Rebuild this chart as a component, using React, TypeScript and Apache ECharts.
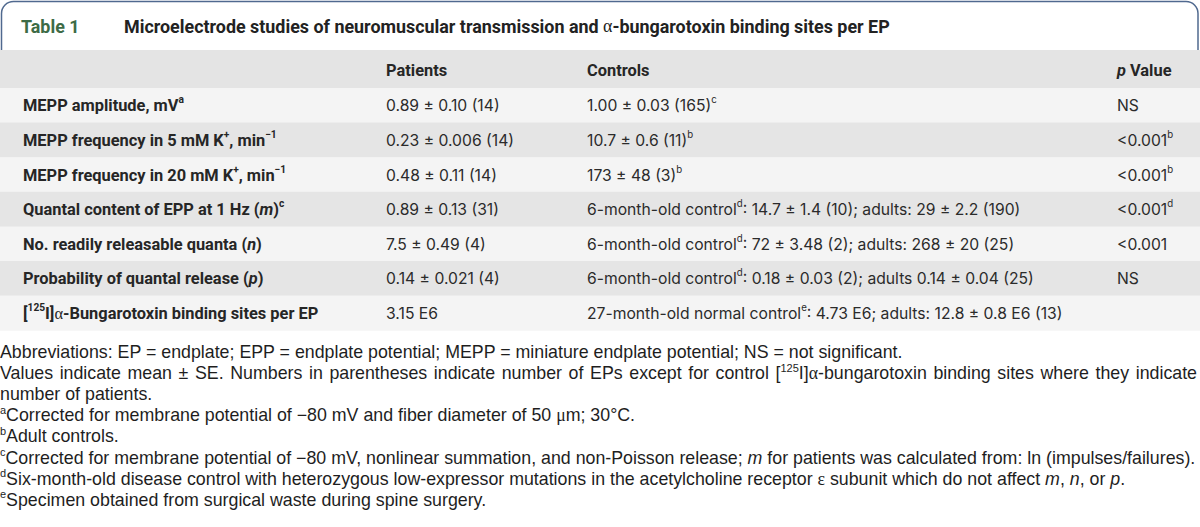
import React, { useEffect, useRef } from "react";
import * as echarts from "echarts";

const tableNumber = "Table 1";
const tableTitle =
  "Microelectrode studies of neuromuscular transmission and {gr|α}-bungarotoxin binding sites per EP";
const columnHeaders = ["Patients", "Controls", "{it|p} Value"];
const rowLabels = [
  "MEPP amplitude, mV{sup|a}",
  "MEPP frequency in 5 mM K{sup|+}, min{sup|−1}",
  "MEPP frequency in 20 mM K{sup|+}, min{sup|−1}",
  "Quantal content of EPP at 1 Hz ({it|m}){sup|c}",
  "No. readily releasable quanta ({it|n})",
  "Probability of quantal release ({it|p})",
  "[{sup|125}I]{gr|α}-Bungarotoxin binding sites per EP",
];
const patientValues = [
  "0.89 ± 0.10 (14)",
  "0.23 ± 0.006 (14)",
  "0.48 ± 0.11 (14)",
  "0.89 ± 0.13 (31)",
  "7.5 ± 0.49 (4)",
  "0.14 ± 0.021 (4)",
  "3.15 E6",
];
const controlValues = [
  "1.00 ± 0.03 (165){sup|c}",
  "10.7 ± 0.6 (11){sup|b}",
  "173 ± 48 (3){sup|b}",
  "6-month-old control{sup|d}: 14.7 ± 1.4 (10); adults: 29 ± 2.2 (190)",
  "6-month-old control{sup|d}: 72 ± 3.48 (2); adults: 268 ± 20 (25)",
  "6-month-old control{sup|d}: 0.18 ± 0.03 (2); adults 0.14 ± 0.04 (25)",
  "27-month-old normal control{sup|e}: 4.73 E6; adults: 12.8 ± 0.8 E6 (13)",
];
const pValues = ["NS", "<0.001{sup|b}", "<0.001{sup|b}", "<0.001{sup|d}", "<0.001", "NS", ""];
const footnoteLines = [
  "Abbreviations: EP = endplate; EPP = endplate potential; MEPP = miniature endplate potential; NS = not significant.",
  "Values indicate mean ± SE. Numbers in parentheses indicate number of EPs except for control [{sup|125}I]{gr|α}-bungarotoxin binding sites where they indicate",
  "number of patients.",
  "{sup|a}Corrected for membrane potential of −80 mV and fiber diameter of 50 {gr|μ}m; 30°C.",
  "{sup|b}Adult controls.",
  "{sup|c}Corrected for membrane potential of −80 mV, nonlinear summation, and non-Poisson release; {it|m} for patients was calculated from: ln (impulses/failures).",
  "{sup|d}Six-month-old disease control with heterozygous low-expressor mutations in the acetylcholine receptor {gr|ε} subunit which do not affect {it|m}, {it|n}, or {it|p}.",
  "{sup|e}Specimen obtained from surgical waste during spine surgery.",
];
const justifiedFootnotes = [1];

const LABEL_FAMILY = "Roboto, 'Noto Sans', sans-serif";
const VALUE_FAMILY = "Inter, Roboto, sans-serif";
const NOTE_FAMILY = "'Liberation Sans', Arial, sans-serif";
const SERIF_FAMILY = "'Liberation Serif', 'DejaVu Serif', serif";

type Base = { size: number; family: string; weight: string; fill: string; lh: number };

function richFor(b: Base) {
  const mk = (o: any) => ({
    fontSize: b.size,
    fontFamily: b.family,
    fontWeight: b.weight,
    fontStyle: "normal",
    fill: b.fill,
    lineHeight: b.lh,
    verticalAlign: "middle",
    textVerticalAlign: "middle",
    ...o,
  });
  return {
    sup: mk({ fontSize: Math.round(b.size * 0.62 * 10) / 10, lineHeight: 11, verticalAlign: "top", textVerticalAlign: "top" }),
    it: mk({ fontStyle: "italic" }),
    gr: mk({ fontFamily: SERIF_FAMILY, fontWeight: "normal" }),
  };
}

function textEl(x: number, y: number, text: string, b: Base) {
  return {
    type: "text",
    x,
    y,
    silent: true,
    style: {
      text,
      fontSize: b.size,
      fontFamily: b.family,
      fontWeight: b.weight,
      fill: b.fill,
      lineHeight: b.lh,
      align: "left",
      textAlign: "left",
      verticalAlign: "middle",
      textVerticalAlign: "middle",
      rich: richFor(b),
    },
  };
}

let ctx: CanvasRenderingContext2D | null = null;
function measureRich(str: string, b: Base) {
  if (!ctx) ctx = document.createElement("canvas").getContext("2d");
  const rich: any = richFor(b);
  const re = /\{(\w+)\|([^}]*)\}|([^{]+)/g;
  let m: RegExpExecArray | null;
  let w = 0;
  while ((m = re.exec(str))) {
    let size = b.size, fam = b.family, weight = b.weight, style = "normal", t = m[3];
    if (m[1]) {
      const r = rich[m[1]];
      size = r.fontSize; fam = r.fontFamily; weight = r.fontWeight; style = r.fontStyle; t = m[2];
    }
    ctx!.font = `${style} ${weight} ${size}px ${fam}`;
    w += ctx!.measureText(t).width;
  }
  return w;
}

// scale a base style so that a sample string spans the target width
function fit(b: Base, sample: string, target: number): Base {
  const w = measureRich(sample, b);
  return { ...b, size: Math.round(((b.size * target) / w) * 10) / 10 };
}

export default function App() {
  const ref = useRef<HTMLDivElement>(null);
  useEffect(() => {
    if (!ref.current) return;
    const chart = echarts.init(ref.current, undefined, { renderer: "svg" });
    const W = 1200;
    const els: any[] = [];

    const titleB = fit({ size: 16, family: LABEL_FAMILY, weight: "bold", fill: "#222", lh: 22 }, tableTitle, 765);
    const numB: Base = { ...titleB, fill: "#3d6b46" };
    const labelB = fit({ size: 16, family: LABEL_FAMILY, weight: "bold", fill: "#262626", lh: 22 }, rowLabels[2], 263);
    const headB: Base = { ...labelB };
    const valB = fit({ size: 16, family: VALUE_FAMILY, weight: "normal", fill: "#2b2b2b", lh: 22 }, controlValues[3], 434);
    const noteB = fit({ size: 17, family: NOTE_FAMILY, weight: "normal", fill: "#1e1e1e", lh: 22 }, footnoteLines[5], 1194);

    // title box
    els.push({
      type: "rect",
      silent: true,
      shape: { x: 1.5, y: 1.5, width: W - 3.5, height: 70, r: [12, 12, 0, 0] },
      style: { fill: "#fff", stroke: "#50698f", lineWidth: 1.5 },
    });
    els.push(textEl(21, 26, tableNumber, numB));
    els.push(textEl(124, 26, tableTitle, titleB));

    // header row
    const headTop = 50, headBottom = 88, rowH = 34.6;
    els.push({ type: "rect", silent: true, shape: { x: 0, y: headTop, width: W, height: headBottom - headTop }, style: { fill: "#e4e4e4" } });
    const colX = [23, 386, 587, 1117];
    const headY = 70;
    columnHeaders.forEach((h, i) => els.push(textEl(colX[i + 1], headY, h, headB)));

    rowLabels.forEach((lab, i) => {
      const top = headBottom + i * rowH;
      els.push({
        type: "rect",
        silent: true,
        shape: { x: 0, y: top, width: W, height: rowH + 0.5 },
        style: { fill: i % 2 === 0 ? "#f4f4f4" : "#e5e5e5" },
      });
      const cy = top + rowH / 2 + 0.5;
      els.push(textEl(colX[0], cy, lab, labelB));
      els.push(textEl(colX[1], cy, patientValues[i], valB));
      els.push(textEl(colX[2], cy, controlValues[i], valB));
      if (pValues[i]) els.push(textEl(colX[3], cy, pValues[i], valB));
    });

    // footnotes
    const noteY0 = 352, noteStep = 21.1;
    footnoteLines.forEach((line, i) => {
      const y = noteY0 + i * noteStep;
      if (justifiedFootnotes.includes(i)) {
        const words = line.split(" ");
        const widths = words.map((w) => measureRich(w, noteB));
        const total = widths.reduce((a, c) => a + c, 0);
        const gap = (1197 - 0 - total) / (words.length - 1);
        let x = 0;
        words.forEach((w, k) => {
          els.push(textEl(x, y, w, noteB));
          x += widths[k] + gap;
        });
      } else {
        els.push(textEl(0, y, line, noteB));
      }
    });

    chart.setOption({
      animation: false,
      backgroundColor: "#ffffff",
      graphic: { elements: els },
    });
    return () => chart.dispose();
  }, []);
  return (
    <div
      ref={ref}
      style={{ position: "absolute", left: 0, top: 0, width: 1200, height: 527, background: "#fff" }}
    />
  );
}
